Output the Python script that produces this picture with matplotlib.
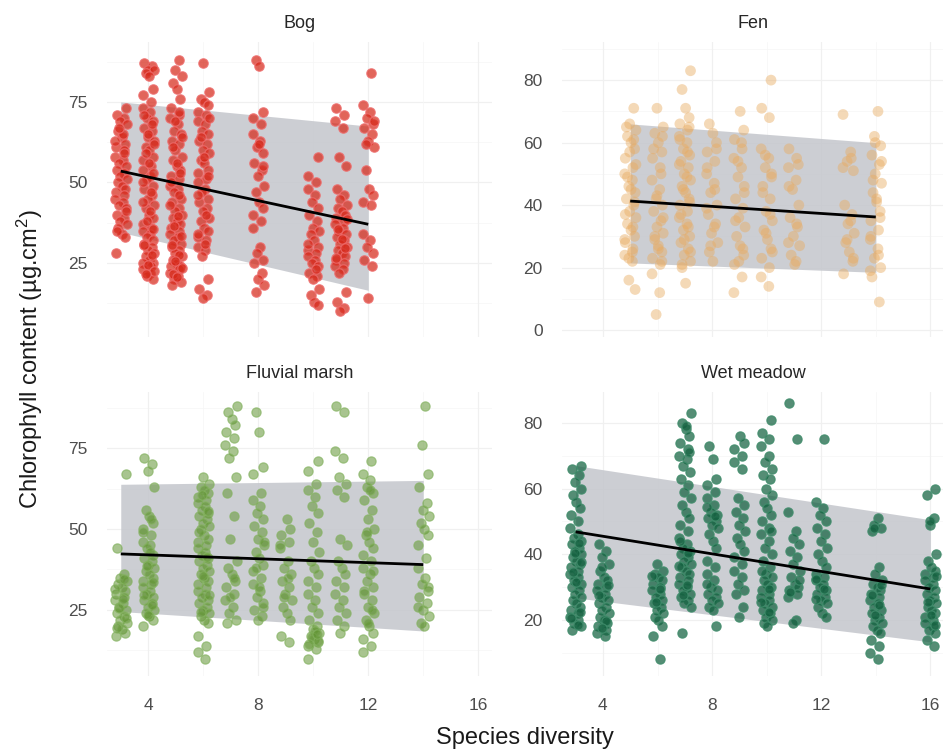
import matplotlib
matplotlib.use("Agg")
import matplotlib.pyplot as plt

plt.rcParams["font.family"] = ["Liberation Sans", "DejaVu Sans"]
plt.rcParams["mathtext.fontset"] = "custom"
plt.rcParams["mathtext.rm"] = "Liberation Sans"
plt.rcParams["mathtext.it"] = "Liberation Sans:italic"

# ---------------- data: chlorophyll per species-diversity level ----------------
bog_levels = [3, 4, 5, 6, 8, 10, 11, 12]
bog_values = [
    [73, 71, 70, 69, 68, 66, 64, 62, 61, 60, 58, 57, 56, 55, 54, 53, 52, 51, 50, 49, 48, 47, 46, 45,
     44, 43, 42, 40, 39, 38, 37, 36, 34, 33, 28, 59, 63, 65, 67, 41, 35],
    [87, 86, 85, 85, 84, 83, 79, 77, 75, 73, 72, 70, 69, 67, 66, 64, 63, 61, 60, 58, 57, 55, 54, 52,
     51, 49, 48, 46, 45, 43, 42, 40, 39, 37, 36, 35, 34, 33, 32, 31, 30, 29, 28, 27, 26, 25, 25, 24,
     23, 22, 21, 20, 71, 68, 65, 62, 59, 56, 53, 50, 47, 44, 41, 38, 35.5, 30.5, 27.5, 24.5, 22.5, 21.5],
    [88, 85, 83, 81, 79, 76, 73, 71, 70, 68, 66, 65, 63, 62, 60, 58, 57, 55, 54, 52, 51, 49, 48, 47,
     45, 44, 42, 41, 40, 39, 38, 37, 36, 35, 34, 33, 32, 31, 30, 29, 28, 27, 26, 25, 24, 24, 23, 22,
     21, 20, 19, 18, 72, 69, 64, 61, 56, 53, 50, 46, 43, 39.5, 36.5, 33.5, 30.5, 27.5, 25.5, 23.5, 21.5, 20.5],
    [87, 78, 76, 75, 74, 72, 71, 69, 68, 66, 65, 63, 62, 60, 59, 57, 56, 54, 53, 51, 50, 48, 47, 45,
     44, 42, 41, 39, 38, 36, 35, 33, 32, 30, 29, 27, 20, 17, 15, 14, 70, 64, 58, 52, 46, 40, 34, 31],
    [88, 86, 72, 70, 68, 65, 63, 61, 59, 56, 54, 52, 49, 47, 44, 42, 40, 38, 36, 30, 28, 26, 25, 22,
     20, 18, 16, 62, 55],
    [58, 52, 50, 48, 46, 44, 42, 40, 38, 36, 35, 34, 32, 30, 29, 28, 27, 26, 25, 24, 22, 21, 20, 17,
     15, 13, 12, 31, 23],
    [73, 71, 69, 67, 58, 55, 48, 46, 45, 43, 42, 41, 40, 39, 38, 37, 36, 35, 34, 33, 32, 31, 30, 29,
     28, 27, 26, 25, 24, 23, 22, 16, 13, 11, 10, 38.5, 35.5, 32.5, 29.5, 26.5],
    [84, 74, 72, 70, 68, 67, 65, 63, 61, 54, 48, 46, 44, 43, 34, 32, 30, 28, 26, 24, 14, 69, 62],
]

fen_levels = [5, 6, 7, 8, 9, 10, 11, 13, 14]
fen_values = [
    [71, 66, 64, 62, 60, 58, 55, 52, 50, 48, 46, 44, 42, 40, 38, 36, 34, 32, 30, 28, 26, 24, 22, 16, 13,
     65, 61, 57, 53, 49, 45, 41, 37, 33, 29, 25, 23],
    [71, 65, 63, 60, 57, 55, 52, 48, 45, 42, 40, 38, 35, 33, 31, 29, 27, 25, 23, 21, 18, 12, 5,
     62, 58, 50, 43, 36, 30, 26, 22],
    [83, 77, 71, 68, 66, 64, 62, 60, 58, 56, 54, 52, 50, 48, 46, 44, 42, 40, 38, 36, 34, 32, 30, 28,
     26, 24, 22, 20, 15, 65, 61, 57, 53, 49, 45, 41, 37, 33, 29, 25, 21],
    [66, 63, 60, 57, 54, 50, 47, 44, 40, 37, 34, 31, 28, 25, 22, 58, 52, 45, 39, 33, 27],
    [70, 64, 61, 58, 55, 52, 49, 46, 42, 39, 36, 33, 30, 27, 24, 21, 17, 12, 60, 54, 44, 35, 26, 22],
    [80, 71, 68, 58, 55, 52, 49, 46, 42, 38, 35, 32, 29, 26, 23, 20, 17, 14, 56, 50, 44, 37, 31, 25],
    [58, 55, 52, 48, 45, 40, 36, 33, 30, 27, 24, 21, 53, 46, 34, 28, 22],
    [69, 57, 54, 51, 40, 37, 34, 31, 28, 25, 22, 18, 55, 52, 35, 29, 23],
    [70, 62, 59, 56, 53, 50, 47, 44, 41, 38, 35, 32, 29, 26, 23, 20, 17, 9, 60, 54, 48, 42, 36, 30, 24, 19],
]

marsh_levels = [3, 4, 6, 7, 8, 9, 10, 11, 12, 14]
marsh_values = [
    [67, 44, 36, 35, 34, 33, 32, 31, 30, 29, 28, 27, 26, 25, 24, 23, 22, 21, 20, 19, 18, 17,
     34.5, 31.5, 28.5, 25.5, 22.5, 19.5],
    [72, 70, 68, 63, 56, 54, 52, 50, 48, 46, 45, 44, 42, 41, 40, 39, 38, 37, 36, 35, 34, 33, 32, 31,
     30, 29, 28, 27, 26, 25, 24, 23, 22, 20, 53, 49, 43, 38.5, 33.5, 29.5, 26.5, 23.5],
    [66, 64, 63, 62, 61, 60, 59, 58, 57, 56, 55, 54, 53, 52, 51, 50, 48, 47, 46, 45, 44, 43, 42, 41,
     40, 39, 38, 37, 36, 35, 34, 33, 32, 31, 30, 29, 28, 27, 26, 25, 24, 23, 22, 21, 17, 14, 12, 10,
     60.5, 55.5, 49, 41.5, 35.5, 29.5, 24.5],
    [88, 86, 84, 82, 80, 78, 76, 74, 72, 66, 61, 54, 47, 40, 38, 36, 34, 32, 30, 28, 26, 24, 22, 21, 35, 29],
    [86, 80, 69, 67, 61, 59, 57, 55, 53, 51, 49, 47, 45, 43, 41, 39, 37, 35, 33, 31, 29, 27, 25, 23, 22,
     46, 38, 32, 26],
    [53, 50, 48, 46, 44, 40, 38, 36, 34, 32, 30, 28, 26, 24, 22, 17, 15, 45, 35, 29],
    [71, 68, 64, 62, 60, 57, 55, 52, 49, 46, 43, 40, 38, 36, 34, 32, 30, 28, 26, 24, 22, 20, 19, 18,
     17, 16, 15, 14, 13, 10, 18.5, 16.5, 15.5, 14.5, 17.5],
    [88, 86, 74, 72, 66, 64, 62, 60, 47, 45, 40, 38, 36, 34, 32, 30, 28, 26, 24, 22, 20, 18],
    [71, 67, 65, 63, 61, 59, 56, 53, 50, 48, 46, 44, 42, 40, 38, 36, 34, 32, 30, 28, 26, 24, 22, 20,
     18, 16, 14, 12, 62, 49, 37, 31, 25, 21],
    [88, 76, 67, 63, 58, 56, 54, 52, 50, 48, 45, 41, 38, 35, 33, 31, 29, 27, 25, 23, 21, 20, 32, 26],
]

meadow_levels = [3, 4, 6, 7, 8, 9, 10, 11, 12, 14, 16]
meadow_values = [
    [67, 66, 64, 62, 60, 58, 56, 54, 52, 50, 48, 46, 45, 44, 43, 42, 41, 40, 39, 38, 37, 36, 35, 34,
     33, 32, 31, 30, 29, 28, 27, 26, 25, 24, 23, 22, 21, 20, 19, 18, 17, 43.5, 40.5, 37.5, 34.5,
     31.5, 22.5, 20.5, 18.5],
    [43, 41, 39, 37, 35, 33, 32, 31, 30, 29, 28, 27, 26, 25, 24, 23, 22, 21, 20, 19, 18, 17, 16, 15,
     36, 30.5, 27.5, 19.5, 17.5],
    [37, 35, 34, 33, 32, 31, 30, 29, 28, 27, 26, 25, 24, 23, 22, 21, 20, 18, 15, 8, 33.5, 29.5, 25.5],
    [83, 80, 78, 76, 74, 72, 70, 69, 67, 65, 63, 61, 59, 57, 55, 53, 51, 49, 47, 45, 43, 42, 41, 40,
     39, 38, 37, 36, 35, 34, 33, 32, 31, 30, 29, 28, 27, 26, 25, 24, 16, 79, 71, 44, 40.5, 36.5, 30.5, 27.5],
    [73, 69, 63, 61, 59, 57, 55, 53, 52, 51, 50, 49, 48, 46, 44, 42, 38, 36, 34, 32, 30, 29, 28, 27,
     26, 25, 24, 23, 18, 54.5, 51.5, 31],
    [76, 74, 72, 70, 68, 66, 57, 55, 53, 51, 49, 47, 45, 43, 41, 39, 37, 35, 33, 31, 29, 28, 24, 21],
    [81, 77, 75, 73, 70, 68, 66, 64, 63, 60, 58, 56, 54, 52, 50, 48, 46, 44, 42, 40, 38, 36, 34, 33,
     32, 31, 30, 29, 28, 27, 26, 25, 24, 23, 22, 21, 20, 19, 18, 47, 35, 29.5, 25.5, 22.5],
    [86, 75, 53, 47, 45, 43, 41, 39, 37, 35, 33, 31, 30, 29, 28, 27, 20, 19, 32, 28.5],
    [75, 56, 54, 52, 50, 48, 46, 44, 42, 40, 38, 36, 34, 33, 32, 31, 30, 29, 28, 27, 26, 25, 24, 22, 21,
     32.5, 29.5, 26.5],
    [51, 49, 48, 47, 36, 34, 32, 31, 30, 29, 28, 27, 26, 25, 24, 23, 22, 21, 20, 19, 18, 17, 16, 14,
     12, 10, 8, 48, 30.5, 27.5, 24.5, 21.5],
    [60, 58, 51, 49, 40, 38, 36, 35, 34, 33, 32, 31, 30, 29, 28, 27, 26, 25, 24, 23, 22, 21, 20, 19,
     18, 17, 16, 14, 12, 50, 33.5, 25.5, 21.5, 18.5],
]

# fitted trend and prediction band at the first / last diversity level
bog_fit = ([3, 12], [53.5, 37.0], [34.5, 16.5], [75.0, 67.5])
fen_fit = ([5, 14], [41.3, 36.2], [21.5, 18.5], [66.0, 60.0])
marsh_fit = ([3, 14], [42.3, 39.0], [24.5, 18.5], [63.8, 65.0])
meadow_fit = ([3, 16], [46.8, 29.4], [26.7, 13.3], [67.0, 50.5])

x_ticks = [4, 8, 12, 16]

# ---------------- drawing ----------------
W, H = 943, 754
fig = plt.figure(figsize=(W / 100, H / 100), dpi=100)


def box(left, top, right, bottom):
    return [left / W, 1 - bottom / H, (right - left) / W, (bottom - top) / H]


jitter = [-0.2, 0.08, -0.05, 0.18, -0.14, 0.13, -0.02, 0.21, -0.1, 0.03, 0.16, -0.18, 0.1]

panels = [
    dict(title="Bog", levels=bog_levels, values=bog_values, fit=bog_fit,
         rect=box(107, 42, 492, 337), ylim=(2.0, 93.6), yticks=[25, 50, 75],
         face=(0.84, 0.16, 0.10, 0.72), edge=(0.93, 0.42, 0.42, 0.8), lw=0.9, s=46, xlab=False),
    dict(title="Fen", levels=fen_levels, values=fen_values, fit=fen_fit,
         rect=box(562, 42, 944, 337), ylim=(-2.2, 92.2), yticks=[0, 20, 40, 60, 80],
         face=(0.91, 0.67, 0.38, 0.45), edge="none", lw=0, s=60, xlab=False),
    dict(title="Fluvial marsh", levels=marsh_levels, values=marsh_values, fit=marsh_fit,
         rect=box(107, 392, 492, 676), ylim=(4.6, 92.3), yticks=[25, 50, 75],
         face=(0.38, 0.58, 0.20, 0.55), edge=(0.52, 0.70, 0.38, 0.7), lw=0.9, s=44, xlab=True),
    dict(title="Wet meadow", levels=meadow_levels, values=meadow_values, fit=meadow_fit,
         rect=box(562, 392, 944, 676), ylim=(2.9, 89.4), yticks=[20, 40, 60, 80],
         face=(0.08, 0.38, 0.25, 0.72), edge=(0.25, 0.55, 0.42, 0.85), lw=0.9, s=44, xlab=True),
]

for p in panels:
    ax = fig.add_axes(p["rect"])
    ax.set_xlim(2.5, 16.5)
    ax.set_ylim(*p["ylim"])
    for s in ax.spines.values():
        s.set_visible(False)

    # faint grid: major + minor lines
    yt = p["yticks"]
    step = yt[1] - yt[0]
    for y in yt:
        ax.axhline(y, color="#f0f0f0", lw=0.9, zorder=0)
    for y in [yt[0] - step / 2] + [t + step / 2 for t in yt]:
        ax.axhline(y, color="#f6f6f6", lw=0.5, zorder=0)
    for x in x_ticks:
        ax.axvline(x, color="#f0f0f0", lw=0.9, zorder=0)
    for x in [2, 6, 10, 14]:
        ax.axvline(x, color="#f6f6f6", lw=0.5, zorder=0)

    xs_fit, line, lo, hi = p["fit"]
    ax.fill_between(xs_fit, lo, hi, color="#c4c6cc", alpha=0.85, lw=0, zorder=1)

    xs, ys = [], []
    for lvl, vals in zip(p["levels"], p["values"]):
        for i, v in enumerate(vals):
            xs.append(lvl + jitter[(i + lvl) % len(jitter)])
            ys.append(v)
    ax.scatter(xs, ys, s=p["s"], facecolor=p["face"], edgecolor=p["edge"],
               linewidths=p["lw"], zorder=2)

    ax.plot(xs_fit, line, color="black", lw=2.0, zorder=3, solid_capstyle="butt")

    ax.set_yticks(yt)
    ax.set_xticks(x_ticks)
    ax.tick_params(length=0, labelsize=12.5, labelcolor="#4d4d4d", pad=14)
    if not p["xlab"]:
        ax.set_xticklabels([])
    else:
        ax.tick_params(axis="x", pad=16)
    ax.set_title(p["title"], fontsize=13, color="#262626", pad=10)

fig.text(525 / W, 1 - 738 / H, "Species diversity", ha="center", va="center",
         fontsize=17, color="#1a1a1a")
fig.text(30 / W, 1 - 359 / H, r"Chlorophyll content (µg.cm$^2$)", ha="center", va="center",
         rotation=90, fontsize=17, color="#1a1a1a")

fig.savefig("out.png", dpi=100, facecolor="white")
